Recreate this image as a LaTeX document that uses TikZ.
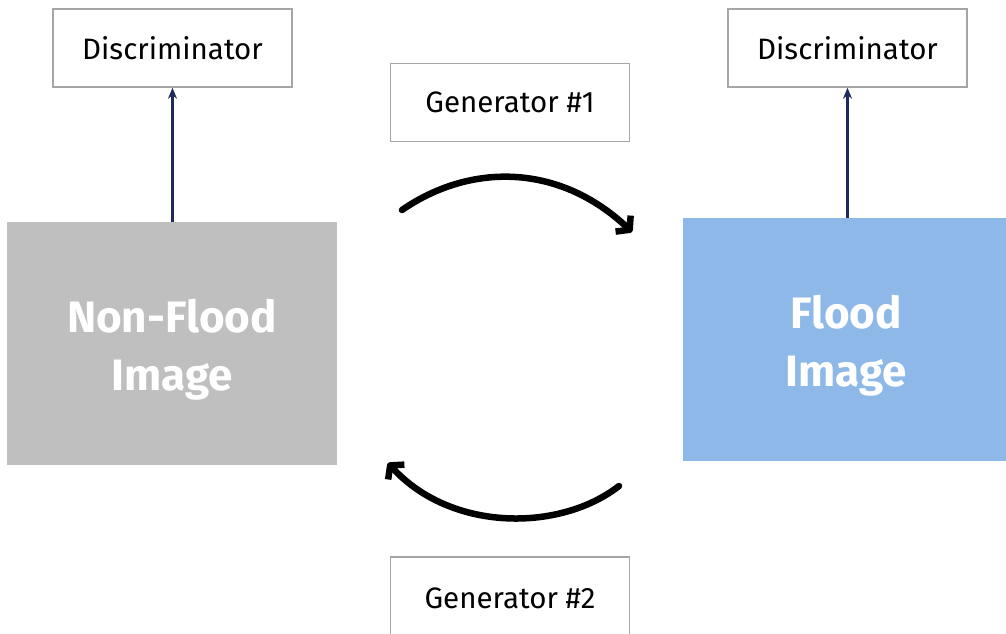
\documentclass[tikz,border=0pt]{standalone}
\usepackage{fontspec}
\setmainfont{Fira Sans}
\usetikzlibrary{arrows.meta}
\definecolor{boxline}{HTML}{A6A6A6}
\definecolor{grayfill}{HTML}{BFBFBF}
\definecolor{bluefill}{HTML}{8DB8E8}
\definecolor{navy}{HTML}{1F2A5C}
\tikzset{
  labelfont/.style={font=\fontsize{29.5}{34}\selectfont},
  labelbox/.style={draw=boxline, line width=1.5pt, fill=white, minimum width=239pt, minimum height=78pt, inner sep=0pt, labelfont, text=black},
  imgbox/.style={minimum width=330pt, minimum height=243pt, inner sep=0pt},
  imgtext/.style={text=white, align=center, font=\fontsize{44}{58}\bfseries\selectfont},
  discarrow/.style={draw=navy, line width=2.2pt, -{Stealth[length=11pt,width=9pt]}},
  genarrow/.style={line width=6.5pt, line cap=round, -{Straight Barb[length=9pt,width=22pt,line join=round]}}
}
\begin{document}
\begin{tikzpicture}[x=1pt,y=-1pt]
\useasboundingbox (0,0) rectangle (1006,634);
\clip (0,0) rectangle (1006,634);
\fill[white] (0,0) rectangle (1006,634);
\node[labelbox] (d1) at (172.5,48) {Discriminator};
\node[labelbox] (d2) at (847.5,48) {Discriminator};
\node[labelbox] (g1) at (510,102.5) {Generator \#1};
\node[labelbox, minimum height=90pt] (g2) at (510,602) {};
\node[labelfont] (g2t) at (510,598) {Generator \#2};
\node[imgbox, fill=grayfill] (nf) at (172,343.5) {};
\node[imgtext] (nft) at (172,350) {Non-Flood\\Image};
\node[imgbox, fill=bluefill, minimum width=323pt] (fl) at (844.5,339.5) {};
\node[imgtext] (flt) at (846,346) {Flood\\Image};
\draw[discarrow] (nf.north -| d1.south) -- (d1.south);
\draw[discarrow] (fl.north -| d2.south) -- (d2.south);
\coordinate (a1s) at (402,210);
\coordinate (a1e) at (632,232);
\coordinate (a2s) at (619,486);
\coordinate (a2e) at (388,463);
\draw[genarrow] (a1s) .. controls (470,163) and (559,163) .. (a1e);
\draw[genarrow] (a2s) .. controls (560,532) and (451,532) .. (a2e);
\end{tikzpicture}
\end{document}
